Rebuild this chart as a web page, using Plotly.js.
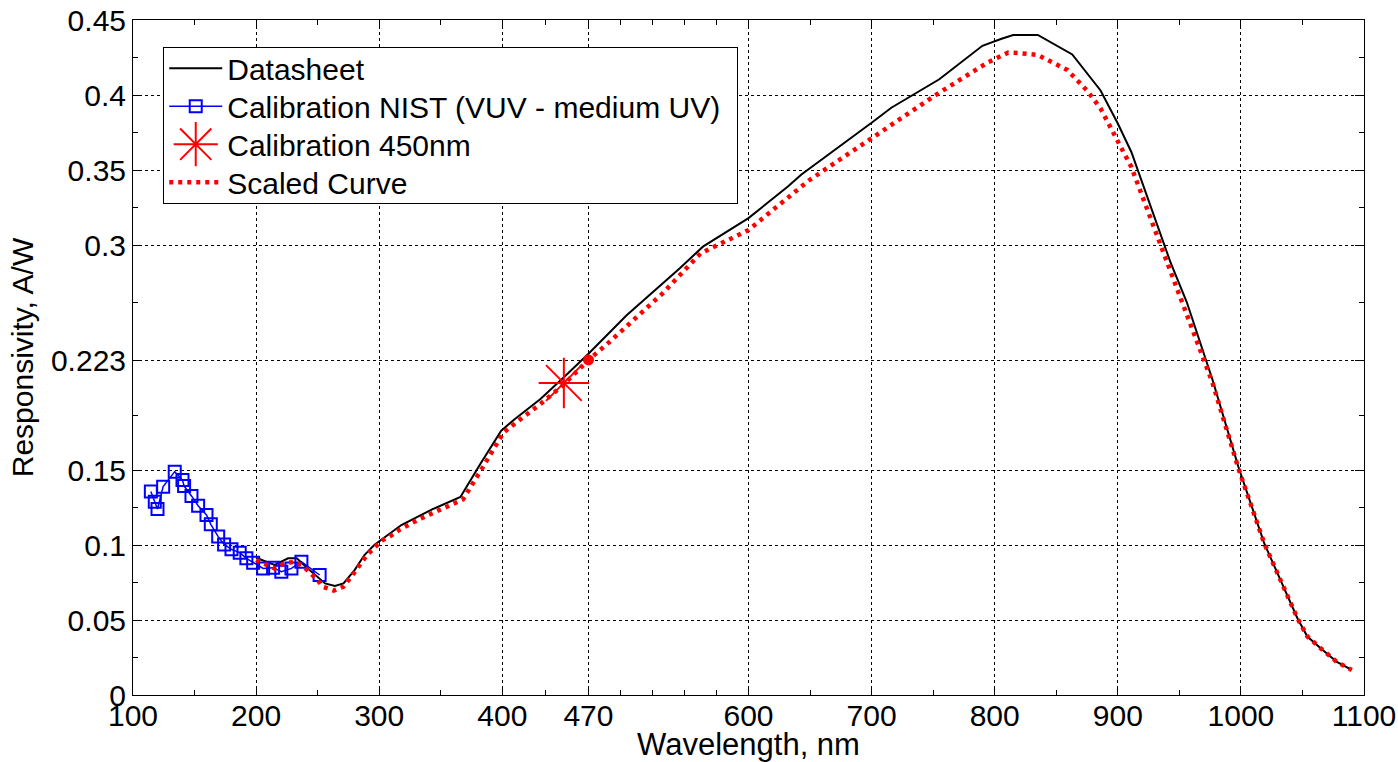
<!DOCTYPE html>
<html>
<head>
<meta charset="utf-8">
<script src="https://cdn.plot.ly/plotly-3.0.1.min.js"></script>
<style>html,body{margin:0;padding:0;background:#fff;}#chart{width:1398px;height:762px;}</style>
</head>
<body>
<div id="chart"></div>
<script>
// ---- Data ----
const wavelengthDatasheet = [200, 215, 226, 233, 242, 250, 256, 264, 271, 280, 288, 296, 307, 318, 343, 366, 382, 399, 410, 431, 450, 470, 501, 526, 544, 563, 600, 632, 643, 700, 716, 755, 790, 805, 815, 835, 863, 886, 900, 911, 927, 943, 956, 967, 977, 998, 1019, 1046, 1054, 1065, 1078, 1090];
const respDatasheet = [0.0915, 0.0867, 0.0911, 0.0911, 0.0844, 0.079, 0.0744, 0.0727, 0.0744, 0.0833, 0.0933, 0.1, 0.1067, 0.1133, 0.1237, 0.132, 0.1538, 0.1761, 0.1839, 0.1973, 0.2118, 0.2275, 0.2531, 0.271, 0.2844, 0.2989, 0.3179, 0.339, 0.347, 0.3815, 0.3915, 0.4105, 0.4328, 0.4373, 0.44, 0.44, 0.427, 0.403, 0.381, 0.362, 0.325, 0.288, 0.262, 0.235, 0.21, 0.152, 0.101, 0.051, 0.039, 0.031, 0.022, 0.0167];

const wavelengthNIST = [114.5, 117.7, 119.9, 124.5, 133.9, 140.2, 141.5, 147.5, 152.9, 159.7, 163.2, 169.2, 174, 180, 186.7, 192.1, 197.6, 205.7, 213.8, 220.5, 228.7, 236.8, 251.6];
const respNIST = [0.1356, 0.1289, 0.124, 0.1389, 0.1489, 0.1433, 0.1393, 0.1327, 0.1262, 0.12, 0.1138, 0.1056, 0.1004, 0.0971, 0.0949, 0.0911, 0.0882, 0.0844, 0.0849, 0.0822, 0.0844, 0.0889, 0.08];

const wavelengthCal = [450];
const respCal = [0.208];

const wavelengthScaled = [200, 208, 215, 222, 231, 238, 244, 250, 254, 263, 271, 276, 281, 290, 296, 302, 309, 317, 332, 368, 384, 401, 413, 431, 449, 470, 487, 509, 530, 561, 600, 649, 700, 726, 755, 795, 811, 819, 835, 859, 875, 886, 900, 911, 943, 967, 977, 998, 1019, 1046, 1054, 1065, 1078, 1090];
const respScaled = [0.09, 0.0867, 0.0844, 0.0873, 0.0889, 0.086, 0.0816, 0.0767, 0.0722, 0.0696, 0.0722, 0.0771, 0.0829, 0.0933, 0.0984, 0.1029, 0.106, 0.1104, 0.117, 0.1304, 0.1516, 0.175, 0.1828, 0.194, 0.2063, 0.2234, 0.2353, 0.252, 0.2676, 0.2944, 0.31, 0.343, 0.3714, 0.3855, 0.4016, 0.422, 0.4283, 0.428, 0.4267, 0.4167, 0.403, 0.391, 0.37, 0.352, 0.282, 0.23, 0.208, 0.151, 0.101, 0.051, 0.039, 0.031, 0.022, 0.0167];

const wavelengthRef = [470];
const respRef = [0.2234];

const xTickVals = [100, 200, 300, 400, 470, 600, 700, 800, 900, 1000, 1100];
const xTickText = ['100', '200', '300', '400', '470', '600', '700', '800', '900', '1000', '1100'];
const xMinorVals = [150, 250, 350, 435, 496, 522, 548, 574, 650, 750, 850, 950, 1050];
const yTickVals = [0, 0.05, 0.1, 0.15, 0.223, 0.3, 0.35, 0.4, 0.45];
const yTickText = ['0', '0.05', '0.1', '0.15', '0.223', '0.3', '0.35', '0.4', '0.45'];
const yMinorVals = [0.025, 0.075, 0.125, 0.1865, 0.2615, 0.325, 0.375, 0.425];

const titleText = 'AXUV100G (Datasheet) - Responsivity)';
const legendNames = ['Datasheet', 'Calibration NIST (VUV - medium UV)', 'Calibration 450nm', 'Scaled Curve'];

// ---- Plot ----
const FONT = 'Liberation Sans, Arial, sans-serif';
const traces = [
  {x: wavelengthDatasheet, y: respDatasheet, mode: 'lines', name: legendNames[0],
   line: {color: '#000000', width: 2}},
  {x: wavelengthNIST, y: respNIST, mode: 'lines+markers', name: legendNames[1],
   line: {color: '#0000ff', width: 1.5},
   marker: {symbol: 'square-open', size: 12, color: '#0000ff', line: {width: 2, color: '#0000ff'}}},
  {x: wavelengthCal, y: respCal, mode: 'markers', name: legendNames[2],
   marker: {symbol: 'asterisk-open', size: 42, color: '#ff0000', line: {width: 2, color: '#ff0000'}}},
  {x: wavelengthScaled, y: respScaled, mode: 'lines', name: legendNames[3],
   line: {color: '#ff0000', width: 4.5, dash: '4px,5px'}},
  {x: wavelengthRef, y: respRef, mode: 'markers', showlegend: false,
   marker: {symbol: 'circle', size: 11, color: '#ff0000'}}
];

const axisCommon = {
  showline: true, linecolor: '#000', linewidth: 1, mirror: 'ticks',
  ticks: 'inside', ticklen: 9, tickwidth: 1, tickcolor: '#000',
  showgrid: true, gridcolor: '#000', gridwidth: 1, griddash: '3px,3px',
  zeroline: false, tickfont: {family: FONT, size: 30, color: '#000'},
  tickmode: 'array', fixedrange: true
};

const layout = {
  width: 1398, height: 762,
  margin: {l: 133, r: 34, t: 20, b: 67},
  paper_bgcolor: '#fff', plot_bgcolor: '#fff',
  font: {family: FONT, size: 30, color: '#000'},
  showlegend: true,
  legend: {x: 0.0244, y: 0.96, xanchor: 'left', yanchor: 'top',
           bgcolor: '#fff', bordercolor: '#000', borderwidth: 1.2,
           font: {family: FONT, size: 30, color: '#000'}, itemwidth: 53},
  xaxis: Object.assign({}, axisCommon, {
    range: [100, 1100], tickvals: xTickVals, ticktext: xTickText,
    ticklabelstandoff: -6,
    minor: {tickmode: 'array', tickvals: xMinorVals, ticks: 'inside', ticklen: 5, tickcolor: '#000', showgrid: false},
    title: {text: 'Wavelength, nm', font: {family: FONT, size: 31, color: '#000'}, standoff: 9}
  }),
  yaxis: Object.assign({}, axisCommon, {
    range: [0, 0.45], tickvals: yTickVals, ticktext: yTickText,
    minor: {tickmode: 'array', tickvals: yMinorVals, ticks: 'inside', ticklen: 5, tickcolor: '#000', showgrid: false},
    title: {text: 'Responsivity, A/W', font: {family: FONT, size: 30, color: '#000'}, standoff: 8}
  }),
  annotations: [{
    text: titleText, xref: 'paper', yref: 'paper', x: 0.506, y: 1, xanchor: 'center', yanchor: 'bottom',
    yshift: 18, showarrow: false, font: {family: FONT, size: 35, color: '#000'}
  }]
};

Plotly.newPlot('chart', traces, layout, {displayModeBar: false, staticPlot: true}).then(function (gd) {
  var leg = gd.querySelector('.legend');
  if (!leg) return;
  var items = leg.querySelectorAll('.traces');
  // enlarge the asterisk symbol in the legend (Plotly caps legend marker size)
  items.forEach(function (t) {
    var txt = t.querySelector('.legendtext');
    if (txt && txt.textContent === legendNames[2]) {
      t.querySelectorAll('.legendpoints path').forEach(function (p) {
        var tr = p.getAttribute('transform') || '';
        p.setAttribute('transform', tr + ' scale(2.3)');
        p.style.vectorEffect = 'non-scaling-stroke';
      });
    }
  });
  // tighten legend row spacing to match the MATLAB-style legend
  var rowGap = 38, firstShift = -6, y0 = null;
  items.forEach(function (t, i) {
    var m = /translate\(\s*([-\d.e]+)[\s,]+([-\d.e]+)\s*\)/.exec(t.getAttribute('transform') || '');
    if (!m) return;
    var x = parseFloat(m[1]), y = parseFloat(m[2]);
    if (y0 === null) y0 = y;
    t.setAttribute('transform', 'translate(' + x + ',' + (y0 + firstShift + i * rowGap) + ')');
  });
  var bg = leg.querySelector('rect.bg');
  if (bg) { bg.setAttribute('height', 156); bg.setAttribute('width', 574); }
  leg.querySelectorAll('clipPath rect, rect.scrollbox-bg').forEach(function (r) { r.setAttribute('height', 156); r.setAttribute('width', 574); });
});
</script>
</body>
</html>
